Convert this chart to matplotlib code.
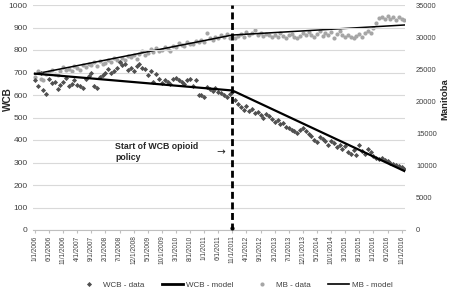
import matplotlib
matplotlib.use("Agg")
import matplotlib.pyplot as plt
from matplotlib.lines import Line2D
import pandas as pd

plt.rcParams['font.family'] = ['Liberation Sans', 'DejaVu Sans']

# Monthly series Jan 2006 .. Dec 2016
dates = pd.date_range("2006-01-01", "2016-12-01", freq="MS")
tick_every = 5
intervention_label = "11/1/2011"

wcb_data = [
    665, 640, 700, 622, 605, 670, 655, 660, 625, 645,
    660, 675, 640, 650, 665, 645, 640, 630, 670, 685,
    700, 640, 632, 680, 690, 700, 715, 700, 705, 720,
    745, 735, 740, 712, 720, 705, 730, 738, 722, 715,
    690, 705, 660, 695, 672, 655, 665, 660, 650, 670,
    675, 665, 660, 650, 668, 672, 640, 665, 600, 598,
    592, 635, 625, 620, 632, 615, 610, 600, 590, 605,
    615, 580, 560, 545, 535, 550, 530, 540, 520, 525,
    510, 500, 515, 505, 495, 480, 490, 470, 475, 460,
    455, 445, 440, 430, 445, 455, 440, 425, 420, 400,
    390, 415, 405, 395, 380, 395, 385, 370, 380, 360,
    375, 345, 340, 355, 335, 380, 350, 340, 360, 345,
    330, 320, 315, 320, 310, 305, 300, 295, 290, 285,
    280, 270,
]

mb_data = [
    23800, 24700, 23500, 23300, 24200, 24600, 24900, 24300, 24100, 24800,
    25300, 24900, 25100, 24700, 25500, 25200, 24900, 25600, 25400, 25900,
    25700, 26100, 25500, 26300, 25800, 26000, 26500, 26200, 26700, 26400,
    26100, 26800, 26500, 27100, 26900, 27300, 26600, 27400, 27800, 27200,
    27600, 28100, 27700, 28300, 27900, 28000, 28400, 28200, 27800, 28700,
    28500, 29100, 28800, 28600, 29300, 29000, 28900, 29400, 29200, 29600,
    29300, 30700, 29900, 29500, 30000, 29800, 30300, 30100, 30500, 29900,
    30400, 29900, 30200, 30500, 30100, 30800, 30300, 30600, 31100, 30400,
    30700, 30200, 30500, 30300, 30000, 30400, 30100, 30600, 30200, 29900,
    30300, 30500, 30100, 29800, 30200, 30600, 30400, 30800, 30300, 30100,
    30500, 30900, 30200, 30700, 30400, 30800, 29900, 30500, 31000, 30300,
    30100, 30400, 30000, 29800, 30200, 30500, 30100, 30700, 30900, 30600,
    31400, 32200, 33000, 33200, 32900, 33300, 32800, 33100, 32700, 33200,
    32900, 32600,
]

# Segmented model lines: values at start, at intervention, at end
wcb_model_knots = [695, 620, 262]
mb_model_knots = [24270, 30330, 31890]

labels = [f"{d.month}/{d.day}/{d.year}" for d in dates]
n = len(dates)
x = list(range(n))
k = labels.index(intervention_label)
knot_x = [0, k, n - 1]

fig = plt.figure(figsize=(4.5, 2.93), dpi=100)
ax = fig.add_axes([33/450, 1-230/293, (405-33)/450, (230-5)/293])
ax2 = ax.twinx()

ax.set_xlim(-0.7, 131.2)
ax.set_ylim(0, 1000)
ax2.set_ylim(0, 35000)

ax.set_yticks(range(0, 1001, 100))
ax.grid(axis='y', color='#d9d9d9', lw=0.8)
ax.set_axisbelow(True)
ax2.set_yticks(range(0, 35001, 5000))

for a in (ax, ax2):
    for s in ('top', 'left', 'right', 'bottom'):
        a.spines[s].set_visible(False)
ax.spines['bottom'].set_visible(True)
ax.spines['bottom'].set_color('#bfbfbf')
ax.spines['bottom'].set_linewidth(0.8)

ax.tick_params(axis='y', length=0, labelsize=6.0, labelcolor='#404040', pad=4)
ax2.tick_params(axis='y', length=0, labelsize=5.4, labelcolor='#404040', pad=8)
ax.set_xticks(x[::tick_every])
ax.set_xticklabels(labels[::tick_every], rotation=90, fontsize=4.7, color='#404040')
ax.tick_params(axis='x', length=2.5, color='#bfbfbf', pad=1.5)

# data
ax2.plot(x, mb_data, 'o', color='#a6a6a6', ms=3.0, mew=0, zorder=3)
ax.plot(x, wcb_data, 'D', color='#505050', ms=2.6, mew=0, zorder=4)
ax2.plot(knot_x, mb_model_knots, '-', color='black', lw=1.1, zorder=5)
ax.plot(knot_x, wcb_model_knots, '-', color='black', lw=1.6, zorder=6)

# intervention line
ax.axvline(k, color='black', lw=2.0, ls=(0, (2.5, 1.3)), zorder=7)
ax.plot([k], [8], 'o', color='black', ms=2, zorder=7)
ax2.set_zorder(ax.get_zorder() - 1)
ax.patch.set_visible(False)

fig.text(115/450, 1-152/293, "Start of WCB opioid\npolicy", fontsize=6.3,
         fontweight='bold', color='#262626', va='center', ha='left', linespacing=1.4)
fig.text(216/450, 1-152/293, "\u2192", fontsize=7.5, color='#262626',
         va='center', ha='left', family=['DejaVu Sans'])

fig.text(8/450, 1-99/293, "WCB", rotation=90, fontsize=7.2, fontweight='bold',
         color='#262626', ha='center', va='center')
fig.text(445/450, 1-99/293, "Manitoba", rotation=90, fontsize=6.8, fontweight='bold',
         color='#262626', ha='center', va='center')

handles = [
    Line2D([], [], ls='none', marker='D', color='#505050', ms=2.6, mew=0),
    Line2D([], [], color='black', lw=2.0),
    Line2D([], [], ls='none', marker='o', color='#a6a6a6', ms=3.0, mew=0),
    Line2D([], [], color='black', lw=1.2),
]
names = ["WCB - data", "WCB - model", "MB - data", "MB - model"]
fig.legend(handles, names, loc='center', bbox_to_anchor=(236/450, 1-285/293),
           ncol=4, frameon=False, fontsize=5.8, handlelength=2.6,
           columnspacing=2.2, handletextpad=0.4, labelcolor='#404040')

fig.savefig("out.png", dpi=100)
